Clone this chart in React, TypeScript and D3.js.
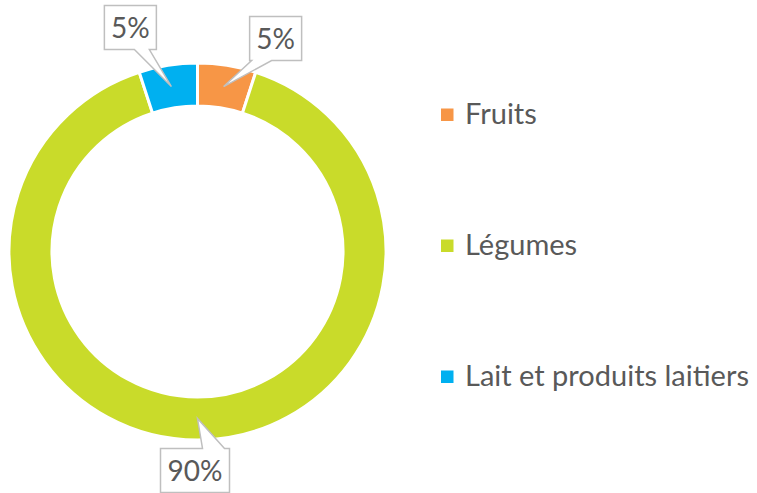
import React from "react";
import * as d3 from "d3";

const categories = ["Fruits", "Légumes", "Lait et produits laitiers"];
const values = [5, 90, 5];
const valueLabels = ["5%", "90%", "5%"];
const colors = ["#F79646", "#C9DB2A", "#00B0F0"];

// callout layout (relative to slice centroid): box offset, size, tail base, side
const callouts = [
  { dx: 26, dy: -70, w: 52, h: 44, t0: 2, t1: 22, side: "bottom" },
  { dx: -37, dy: 30, w: 69, h: 44, t0: 42, t1: 64, side: "top" },
  { dx: -67, dy: -81, w: 52, h: 44, t0: 30, t1: 45, side: "bottom" },
];

const W = 757;
const H = 493;
const cx = 197.5;
const cy = 251.5;
const rOuter = 188.5;
const rInner = 145.5;
const FONT = "Lato, 'Open Sans', sans-serif";
const TEXT = "#595959";

export default function App() {
  const pie = d3
    .pie<number>()
    .sort(null)
    .value((d) => d)
    .startAngle(0)
    .endAngle(2 * Math.PI);
  const arcs = pie(values);
  const arc = d3.arc<d3.PieArcDatum<number>>().innerRadius(rInner).outerRadius(rOuter);
  const legendY = d3.scalePoint<string>().domain(categories).range([115, 377]);

  return (
    <svg
      width={W}
      height={H}
      style={{ position: "absolute", left: 0, top: 0, background: "#fff" }}
      fontFamily={FONT}
    >
      <g transform={`translate(${cx},${cy})`}>
        {arcs.map((a, i) => (
          <path key={i} d={arc(a) || ""} fill={colors[i]} stroke="#fff" strokeWidth={3} />
        ))}
      </g>
      {arcs.map((a, i) => {
        const [mx, my] = arc.centroid(a);
        const tx = cx + mx;
        const ty = cy + my;
        const c = callouts[i];
        const x0 = tx + c.dx;
        const y0 = ty + c.dy;
        const x1 = x0 + c.w;
        const y1 = y0 + c.h;
        let d: string;
        if (c.side === "bottom") {
          d = `M${x0},${y0}H${x1}V${y1}H${x0 + c.t1}L${tx},${ty}L${x0 + c.t0},${y1}H${x0}Z`;
        } else {
          d = `M${x0},${y0}H${x0 + c.t0}L${tx},${ty}L${x0 + c.t1},${y0}H${x1}V${y1}H${x0}Z`;
        }
        return (
          <g key={"c" + i}>
            <path d={d} fill="#fff" stroke="#BFBFBF" strokeWidth={1.5} strokeLinejoin="miter" />
            <text
              x={(x0 + x1) / 2}
              y={(y0 + y1) / 2 + 10}
              textAnchor="middle"
              fontSize={28}
              fill={TEXT}
            >
              {valueLabels[i]}
            </text>
          </g>
        );
      })}
      {categories.map((c, i) => {
        const y = legendY(c) as number;
        return (
          <g key={"l" + i}>
            <rect x={441} y={y - 6.5} width={12.5} height={12.5} fill={colors[i]} />
            <text x={465} y={y + 8.5} fontSize={29} fill={TEXT}>
              {c}
            </text>
          </g>
        );
      })}
    </svg>
  );
}
